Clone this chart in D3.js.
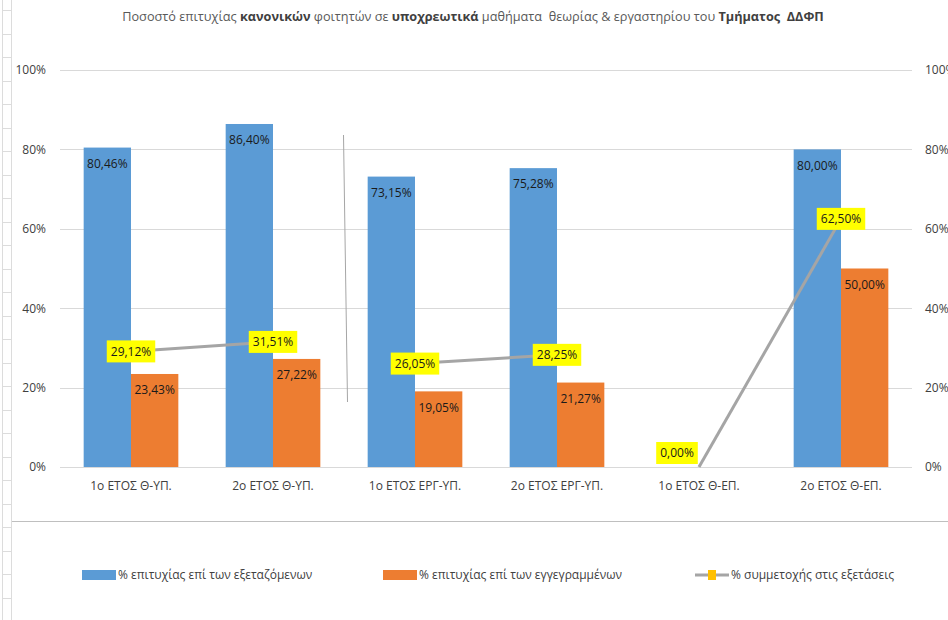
<!DOCTYPE html>
<html>
<head>
<meta charset="utf-8">
<script src="https://cdn.jsdelivr.net/npm/d3@7"></script>
<style>
  body { margin: 0; background: #fff; }
  svg { display: block; font-family: "Open Sans", "Noto Sans", sans-serif; }
</style>
</head>
<body>
<svg width="948" height="620"></svg>
<script>
// chart values
var categories = ["1o ΕΤΟΣ Θ-ΥΠ.", "2o ΕΤΟΣ Θ-ΥΠ.", "1o ΕΤΟΣ ΕΡΓ-ΥΠ.", "2o ΕΤΟΣ ΕΡΓ-ΥΠ.", "1o ΕΤΟΣ Θ-ΕΠ.", "2o ΕΤΟΣ Θ-ΕΠ."]
var successExamined = [0.8046, 0.8640, 0.7315, 0.7528, null, 0.8000]
var successEnrolled = [0.2343, 0.2722, 0.1905, 0.2127, null, 0.5000]
var participation = [0.2912, 0.3151, 0.2605, 0.2825, 0.0000, 0.6250]
var participationGroup = [0, 0, 1, 1, 2, 2]
var yTicks = [0, 0.2, 0.4, 0.6, 0.8, 1]
var seriesNames = ["% επιτυχίας επί των εξεταζόμενων", "% επιτυχίας επί των εγγεγραμμένων", "% συμμετοχής στις εξετάσεις"]

var blue = "#5B9BD5", orange = "#ED7D31", grey = "#A5A5A5"

var svg = d3.select("svg")
var width = 948, height = 620

// spreadsheet cell edges on the left
var sheet = svg.append("g").attr("stroke", "#dcdcdc").attr("stroke-width", 1)
sheet.append("line").attr("x1", 2.5).attr("x2", 2.5).attr("y1", 0).attr("y2", height)
sheet.append("line").attr("x1", 11.5).attr("x2", 11.5).attr("y1", 0).attr("y2", height)
sheet.selectAll(".cell").data(d3.range(10, height, 23.5)).enter().append("line")
  .attr("x1", 2.5).attr("x2", 11.5)
  .attr("y1", d => Math.round(d) + 0.5).attr("y2", d => Math.round(d) + 0.5)

// chart bottom border
svg.append("line")
  .attr("x1", 12).attr("x2", width)
  .attr("y1", 521.5).attr("y2", 521.5)
  .attr("stroke", "#bfbfbf")

// Title
var title = svg.append("text")
  .attr("x", 473).attr("y", 21)
  .attr("text-anchor", "middle")
  .attr("fill", "#595959")
  .attr("xml:space", "preserve")
  .style("font-size", "12.7px")
var parts = [["Ποσοστό επιτυχίας ", false], ["κανονικών", true], [" φοιτητών σε ", false], ["υποχρεωτικά", true],
  [" μαθήματα  θεωρίας & εργαστηρίου του ", false], ["Τμήματος  ΔΔΦΠ", true]]
parts.forEach(p => {
  title.append("tspan").text(p[0])
    .attr("font-weight", p[1] ? "bold" : "normal")
    .attr("fill", p[1] ? "#404040" : "#595959")
    .style("white-space", "pre")
})

// scales
var x = d3.scaleBand().domain(categories).range([60, 912]).paddingInner(1 / 3).paddingOuter(1 / 6)
var x1 = d3.scaleBand().domain([0, 1]).range([0, x.bandwidth()])
var y = d3.scaleLinear().domain([0, 1]).range([467, 70])

// gridlines
svg.append("g").selectAll("line").data(yTicks).enter().append("line")
  .attr("x1", 60).attr("x2", 912)
  .attr("y1", d => Math.round(y(d)) + 0.5).attr("y2", d => Math.round(y(d)) + 0.5)
  .attr("stroke", "#d9d9d9")

// axes labels
var fmt = d3.format(".0%")
var leftAxis = svg.append("g").attr("transform", "translate(60,0)")
  .call(d3.axisLeft(y).tickValues(yTicks).tickFormat(fmt).tickSize(0).tickPadding(14))
var rightAxis = svg.append("g").attr("transform", "translate(912,0)")
  .call(d3.axisRight(y).tickValues(yTicks).tickFormat(fmt).tickSize(0).tickPadding(13))
var bottomAxis = svg.append("g").attr("transform", "translate(0,467)")
  .call(d3.axisBottom(x).tickSize(0).tickPadding(14))
;[leftAxis, rightAxis, bottomAxis].forEach(a => {
  a.select(".domain").remove()
  a.selectAll("text").attr("fill", "#404040").style("font-size", "12px").style("font-family", "\"Open Sans\", sans-serif")
})

// bars
var pct = d => d3.format(".2f")(d * 100).replace(".", ",") + "%"
var barSeries = [successExamined, successEnrolled]
var barColors = [blue, orange]
barSeries.forEach((vals, s) => {
  var g = svg.append("g")
  var data = categories.map((c, i) => ({ c: c, v: vals[i] })).filter(d => d.v != null)
  g.selectAll("rect").data(data).enter().append("rect")
    .attr("x", d => x(d.c) + x1(s))
    .attr("width", x1.bandwidth())
    .attr("y", d => y(d.v))
    .attr("height", d => y(0) - y(d.v))
    .attr("fill", barColors[s])
  g.selectAll("text").data(data).enter().append("text")
    .attr("x", d => x(d.c) + x1(s) + x1.bandwidth() / 2)
    .attr("y", d => y(d.v) + 16)
    .attr("dy", "0.35em")
    .attr("text-anchor", "middle")
    .attr("fill", "#1a1a1a")
    .style("font-size", "12px")
    .text(d => pct(d.v))
})

// stray vertical stroke
svg.append("line")
  .attr("x1", 343.5).attr("y1", 135).attr("x2", 347.5).attr("y2", 402)
  .attr("stroke", "#a6a6a6").attr("stroke-width", 1)

// participation line (drawn in pairs)
var pts = categories.map((c, i) => ({ c: c, v: participation[i], g: participationGroup[i] }))
var line = d3.line().x(d => x(d.c) + x.bandwidth() / 2).y(d => y(d.v))
var groups = d3.groups(pts, d => d.g)
svg.append("g").selectAll("path").data(groups).enter().append("path")
  .attr("d", d => line(d[1]))
  .attr("fill", "none")
  .attr("stroke", grey)
  .attr("stroke-width", 3)

// yellow labels
var lab = svg.append("g").selectAll("g").data(pts).enter().append("g")
  .attr("transform", d => {
    var px = x(d.c) + x.bandwidth() / 2, py = y(d.v)
    if (d.v === 0) { px -= 22; py -= 14 }
    return "translate(" + px + "," + py + ")"
  })
lab.append("text")
  .attr("text-anchor", "middle")
  .attr("dy", "0.35em")
  .attr("fill", "#1a1a1a")
  .style("font-size", "12px")
  .text(d => pct(d.v))
lab.each(function () {
  var t = d3.select(this).select("text")
  var w = t.node().getComputedTextLength()
  d3.select(this).insert("rect", "text")
    .attr("x", -w / 2 - 4).attr("y", -11)
    .attr("width", w + 8).attr("height", 22)
    .attr("fill", "#FFFF00")
})

// legend
var legend = svg.append("g").style("font-size", "12px")
var lx = [82, 383, 695]
seriesNames.forEach((name, i) => {
  var g = legend.append("g").attr("transform", "translate(" + lx[i] + ",575)")
  if (i < 2) {
    g.append("rect").attr("x", 0).attr("y", -5).attr("width", 34).attr("height", 10).attr("fill", barColors[i])
    g.append("text").attr("x", 36).attr("dy", "0.35em").attr("fill", "#404040").text(name)
  } else {
    g.append("line").attr("x1", 0).attr("x2", 34).attr("stroke", grey).attr("stroke-width", 3)
    g.append("rect").attr("x", 13).attr("y", -5).attr("width", 8).attr("height", 10).attr("fill", "#FFC000")
    g.append("text").attr("x", 36).attr("dy", "0.35em").attr("fill", "#404040").text(name)
  }
})
</script>
</body>
</html>
